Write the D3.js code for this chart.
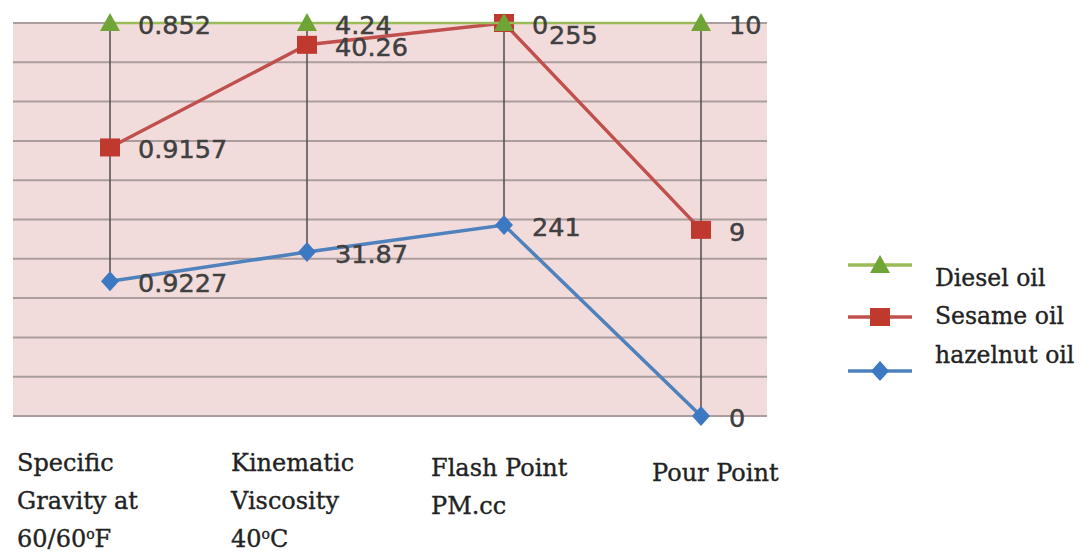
<!DOCTYPE html>
<html>
<head>
<meta charset="utf-8">
<script src="https://cdn.jsdelivr.net/npm/d3@7"></script>
<style>
  body { margin: 0; background: #fff; }
  svg { display: block; }
</style>
</head>
<body>
<svg id="chart" width="1084" height="554"></svg>
<script>
// categories (one column each), drawn as multi-line labels
var categories = ["Specific Gravity", "Kinematic Viscosity", "Flash Point", "Pour Point"];
var categoryLines = [
    ["Specific", "Gravity at", "60/60ºF"],
    ["Kinematic", "Viscosity", "40ºC"],
    ["Flash Point", "PM.cc"],
    ["Pour Point"]
];

var seriesNames = ["Diesel oil", "Sesame oil", "hazelnut oil"];
var dieselOil   = [0.852, 4.24, 0, 10];
var sesameOil   = [0.9157, 40.26, 255, 9];
var hazelnutOil = [0.9227, 31.87, 241, 0];

var gridTicks = d3.range(0, 1.0001, 0.1);

var COLORS = { "Diesel oil": "#9bbb59", "Sesame oil": "#c0504d", "hazelnut oil": "#4f81bd" };
var MARKER = { "Diesel oil": "#6fa536", "Sesame oil": "#c0392f", "hazelnut oil": "#3d78c2" };
var TEXT_COLOR = "#404040";

var svg = d3.select("#chart");

var plot = { left: 13, right: 767, top: 23, bottom: 416 };

var x = d3.scalePoint()
    .domain(categories)
    .range([110, 701]);

var y = d3.scaleLinear()
    .domain([0, 1])
    .range([plot.bottom, plot.top]);

// table for the stack
var rows = categories.map(function(c, i) {
    return { cat: c, "Diesel oil": dieselOil[i], "Sesame oil": sesameOil[i], "hazelnut oil": hazelnutOil[i] };
});

// 100% stacked lines, hazelnut at the bottom
var stacked = d3.stack()
    .keys(["hazelnut oil", "Sesame oil", "Diesel oil"])
    .offset(d3.stackOffsetExpand)(rows);

// background + grid
svg.append("rect")
    .attr("x", plot.left).attr("y", plot.top)
    .attr("width", plot.right - plot.left).attr("height", plot.bottom - plot.top)
    .style("fill", "#f2dcdb");

svg.append("g").selectAll("line")
    .data(gridTicks)
    .enter().append("line")
    .attr("x1", plot.left).attr("x2", plot.right)
    .attr("y1", function(d) { return y(d); })
    .attr("y2", function(d) { return y(d); })
    .style("stroke", "#ab9d9d")
    .style("stroke-width", 2);

// high-low lines
svg.append("g").selectAll("line")
    .data(rows)
    .enter().append("line")
    .attr("x1", function(d) { return x(d.cat); })
    .attr("x2", function(d) { return x(d.cat); })
    .attr("y1", function(d, i) { return y(d3.min(stacked, function(s) { return s[i][1]; })); })
    .attr("y2", function(d, i) { return y(d3.max(stacked, function(s) { return s[i][1]; })); })
    .style("stroke", "#5a5454")
    .style("stroke-width", 1.6);

var line = d3.line()
    .x(function(d) { return x(d.data.cat); })
    .y(function(d) { return y(d[1]); });

function drawMarker(g, name, cx, cy) {
    if (name == "Diesel oil") {
        g.append("path")
            .attr("d", "M" + cx + "," + (cy - 10) + "L" + (cx + 10) + "," + (cy + 8) + "L" + (cx - 10) + "," + (cy + 8) + "Z")
            .style("fill", MARKER[name]);
    } else if (name == "Sesame oil") {
        g.append("rect")
            .attr("x", cx - 10).attr("y", cy - 9)
            .attr("width", 20).attr("height", 18)
            .style("fill", MARKER[name]);
    } else {
        g.append("path")
            .attr("d", "M" + cx + "," + (cy - 10) + "L" + (cx + 9) + "," + cy + "L" + cx + "," + (cy + 10) + "L" + (cx - 9) + "," + cy + "Z")
            .style("fill", MARKER[name]);
    }
}

// series, bottom first so diesel sits on top
stacked.forEach(function(s) {
    var g = svg.append("g");
    g.append("path")
        .datum(s)
        .attr("d", line)
        .style("fill", "none")
        .style("stroke", COLORS[s.key])
        .style("stroke-width", s.key == "Diesel oil" ? 2.5 : 3.5);
    s.forEach(function(d) {
        drawMarker(g, s.key, x(d.data.cat), y(d[1]));
    });
});

// data labels
var labelNudge = { "Sesame oil|Flash Point": [17, 10] };
stacked.forEach(function(s) {
    svg.append("g").selectAll("text")
        .data(s)
        .enter().append("text")
        .attr("x", function(d) {
            var n = labelNudge[s.key + "|" + d.data.cat] || [0, 0];
            return x(d.data.cat) + 28 + n[0];
        })
        .attr("y", function(d) {
            var n = labelNudge[s.key + "|" + d.data.cat] || [0, 0];
            return y(d[1]) + 11 + n[1];
        })
        .text(function(d) { return d.data[s.key]; })
        .style("font-family", "DejaVu Sans, Verdana, sans-serif")
        .style("font-size", "25.5px")
        .style("fill", TEXT_COLOR)
        .style("stroke", TEXT_COLOR)
        .style("stroke-width", 0.5);
});

// category labels (left aligned under each column)
var catDx = [-93, -76, -73, -49];
var catDy = [0, 0, 5, 10];
categoryLines.forEach(function(lines, i) {
    var t = svg.append("text")
        .attr("x", x(categories[i]) + catDx[i])
        .attr("y", 471 + catDy[i])
        .style("font-family", "DejaVu Serif, Liberation Serif, serif")
        .style("font-size", "24px")
        .style("fill", "#222")
        .style("stroke", "#222")
        .style("stroke-width", 0.35);
    lines.forEach(function(l, j) {
        var parts = l.split("º");
        t.append("tspan")
            .attr("x", x(categories[i]) + catDx[i])
            .attr("dy", j == 0 ? 0 : 38)
            .text(parts[0]);
        if (parts.length > 1) {
            t.append("tspan").attr("dy", -8).style("font-size", "14px").text("o");
            t.append("tspan").attr("dy", 8).text(parts[1]);
        }
    });
});

// legend
var legendY = [265, 317, 371];
var legendTextY = [286, 324, 363];
seriesNames.forEach(function(name, i) {
    var g = svg.append("g");
    g.append("line")
        .attr("x1", 848).attr("x2", 912)
        .attr("y1", legendY[i]).attr("y2", legendY[i])
        .style("stroke", COLORS[name])
        .style("stroke-width", 3.5);
    drawMarker(g, name, 880, legendY[i]);
    g.append("text")
        .attr("x", 935).attr("y", legendTextY[i])
        .text(name)
        .style("font-family", "DejaVu Serif, Liberation Serif, serif")
        .style("font-size", "23.5px")
        .style("fill", "#222")
        .style("stroke", "#222")
        .style("stroke-width", 0.35);
});
</script>
</body>
</html>
